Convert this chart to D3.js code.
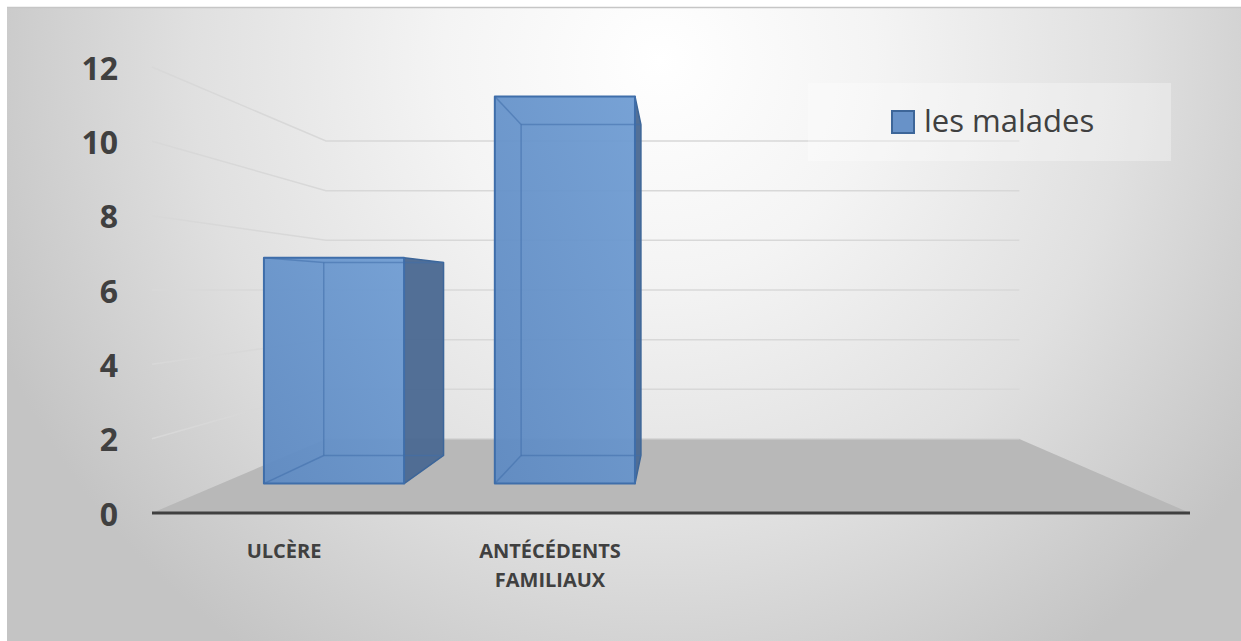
<!DOCTYPE html>
<html>
<head>
<meta charset="utf-8">
<script src="https://cdn.jsdelivr.net/npm/d3@7"></script>
<style>
  html, body { margin: 0; padding: 0; background: #ffffff; }
  svg { display: block; }
</style>
</head>
<body>
<script>
// Chart data
const categories = ["ULCÈRE", "ANTÉCÉDENTS FAMILIAUX", "", ""];
const values = [7, 12, null, null];
const seriesName = "les malades";
const yTicks = [0, 2, 4, 6, 8, 10, 12];

const W = 1241, H = 641;
const svg = d3.select("body").append("svg").attr("width", W).attr("height", H);
const defs = svg.append("defs");

// Background: soft radial light from the upper middle
const bg = defs.append("radialGradient").attr("id", "bg")
  .attr("gradientUnits", "userSpaceOnUse")
  .attr("cx", 660).attr("cy", 60).attr("r", 720);
[[0, "#ffffff"], [0.3, "#f4f4f4"], [0.65, "#e0e0e0"], [1, "#c4c4c4"]]
  .forEach(([o, c]) => bg.append("stop").attr("offset", o).attr("stop-color", c));

const faceGrad = defs.append("linearGradient").attr("id", "face")
  .attr("x1", 0).attr("y1", 1).attr("x2", 1).attr("y2", 0);
faceGrad.append("stop").attr("offset", 0).attr("stop-color", "#5e8ac2");
faceGrad.append("stop").attr("offset", 1).attr("stop-color", "#709dd3");

svg.append("rect").attr("x", 7).attr("y", 7).attr("width", W - 7).attr("height", H - 7)
  .attr("fill", "url(#bg)");
svg.append("line").attr("x1", 7).attr("x2", W).attr("y1", 7.5).attr("y2", 7.5)
  .attr("stroke", "#c6c6c6").attr("stroke-width", 1.5);

// Front-plane scales
const x = d3.scaleBand().domain(d3.range(categories.length))
  .range([149, 1213]).paddingInner(0.393).paddingOuter(0.1965);
const y = d3.scaleLinear().domain([0, 12]).range([513, 67]);
const plotX = [152, 1190]; // extent of the floor and category axis line

// Perspective: everything recedes toward a vanishing point at eye height
const vp = { x: 676, y: y(6) };
const kWall = 0.668, kBarFront = 0.868, kBarBack = 0.742;
const proj = (px, py, k) => [vp.x + (px - vp.x) * k, vp.y + (py - vp.y) * k];
const [xMin, xMax] = plotX;

// Gridlines: side wall + back wall
const grid = svg.append("g").attr("stroke", "#d8d8d8").attr("stroke-width", 1.5).attr("fill", "none");
yTicks.filter(v => v > 0).forEach(v => {
  const a = [xMin, y(v)];
  const b = proj(xMin, y(v), kWall);
  const c = proj(xMax, y(v), kWall);
  grid.append("path").attr("d", d3.line()([a, b, c]));
});

// Floor
const floorPts = [[xMin, y(0)], proj(xMin, y(0), kWall), proj(xMax, y(0), kWall), [xMax, y(0)]];
svg.append("path").attr("d", d3.line()(floorPts) + "Z").attr("fill", "#b8b8b8");
svg.append("path")
  .attr("d", d3.line()([proj(xMin, y(0), kWall), proj(xMax, y(0), kWall)]))
  .attr("stroke", "#d2d2d2").attr("stroke-width", 1.2);

// Category axis line
svg.append("path")
  .attr("d", d3.line()([[xMin, y(0)], [xMax, y(0)]]))
  .attr("stroke", "#404040").attr("stroke-width", 3);

// 3D columns
const barsG = svg.append("g");
values.forEach((v, i) => {
  if (v == null) return;
  const x0 = x(i), x1 = x(i) + x.bandwidth();
  const yt = y(v), yb = y(0);
  const F = (px, py) => proj(px, py, kBarFront);
  const B = (px, py) => proj(px, py, kBarBack);
  const poly = pts => d3.line()(pts) + "Z";
  const g = barsG.append("g");

  const rightVis = x1 < vp.x, leftVis = x0 > vp.x, topVis = yt > vp.y;

  if (rightVis) g.append("path")
    .attr("d", poly([F(x1, yt), B(x1, yt), B(x1, yb), F(x1, yb)]))
    .attr("fill", "#4a6891").attr("fill-opacity", 0.95)
    .attr("stroke", "#3d6699").attr("stroke-width", 1.5).attr("stroke-linejoin", "round");
  if (leftVis) g.append("path")
    .attr("d", poly([F(x0, yt), B(x0, yt), B(x0, yb), F(x0, yb)]))
    .attr("fill", "#4a6891").attr("fill-opacity", 0.95)
    .attr("stroke", "#3d6699").attr("stroke-width", 1.5);
  if (topVis) g.append("path")
    .attr("d", poly([F(x0, yt), F(x1, yt), B(x1, yt), B(x0, yt)]))
    .attr("fill", "#7aa6da").attr("stroke", "#3d6699").attr("stroke-width", 1.5);

  g.append("path")
    .attr("d", poly([F(x0, yt), F(x1, yt), F(x1, yb), F(x0, yb)]))
    .attr("fill", "url(#face)").attr("fill-opacity", 0.95)
    .attr("stroke", "#3f6eaa").attr("stroke-width", 2).attr("stroke-linejoin", "round");

  // Edges seen through the translucent faces
  const hidden = [];
  if (!topVis) hidden.push([B(x0, yt), B(x1, yt)]);
  hidden.push([B(x0, yb), B(x1, yb)]);
  if (!leftVis) hidden.push([B(x0, yt), B(x0, yb)]);
  if (!rightVis) hidden.push([B(x1, yt), B(x1, yb)]);
  if (!leftVis && !topVis) hidden.push([F(x0, yt), B(x0, yt)]);
  if (!rightVis && !topVis) hidden.push([F(x1, yt), B(x1, yt)]);
  if (!leftVis) hidden.push([F(x0, yb), B(x0, yb)]);
  if (!rightVis) hidden.push([F(x1, yb), B(x1, yb)]);
  hidden.forEach(seg => g.append("path").attr("d", d3.line()(seg))
    .attr("stroke", "#3f6eaa").attr("stroke-opacity", 0.55).attr("stroke-width", 1.5));
});

// Value axis labels
svg.append("g").attr("transform", "translate(118,0)")
  .call(d3.axisLeft(y).tickValues(yTicks).tickSize(0).tickPadding(0))
  .call(g => g.select(".domain").remove())
  .call(g => g.selectAll("text")
    .attr("dy", "0.38em")
    .attr("fill", "#404040")
    .style("font-family", "'Open Sans', sans-serif")
    .style("font-weight", 700)
    .style("font-size", "32px"));

// Category labels (wrapped on spaces)
const catG = svg.append("g").attr("transform", `translate(2,${y(0)})`)
  .call(d3.axisBottom(x).tickSize(0).tickFormat(""))
  .call(g => g.select(".domain").remove());
catG.selectAll(".tick").each(function (i) {
  const t = d3.select(this).select("text")
    .attr("y", 45).attr("dy", 0)
    .attr("fill", "#404040")
    .style("font-family", "'Open Sans', sans-serif")
    .style("font-weight", 700)
    .style("font-size", "20px");
  const words = categories[i] ? categories[i].split(" ") : [];
  words.forEach((w, j) => t.append("tspan").attr("x", 0).attr("dy", j === 0 ? 0 : 29).text(w));
});

// Legend
const leg = svg.append("g");
leg.append("rect").attr("x", 808).attr("y", 83).attr("width", 363).attr("height", 78)
  .attr("fill", "#ffffff").attr("fill-opacity", 0.3);
leg.append("rect").attr("x", 892).attr("y", 111).attr("width", 22).attr("height", 22)
  .attr("fill", "#6892c8").attr("stroke", "#3d6699").attr("stroke-width", 2);
leg.append("text").attr("x", 924).attr("y", 132)
  .attr("fill", "#404040")
  .style("font-family", "'Open Sans', sans-serif")
  .style("font-size", "31px")
  .text(seriesName);
</script>
</body>
</html>
